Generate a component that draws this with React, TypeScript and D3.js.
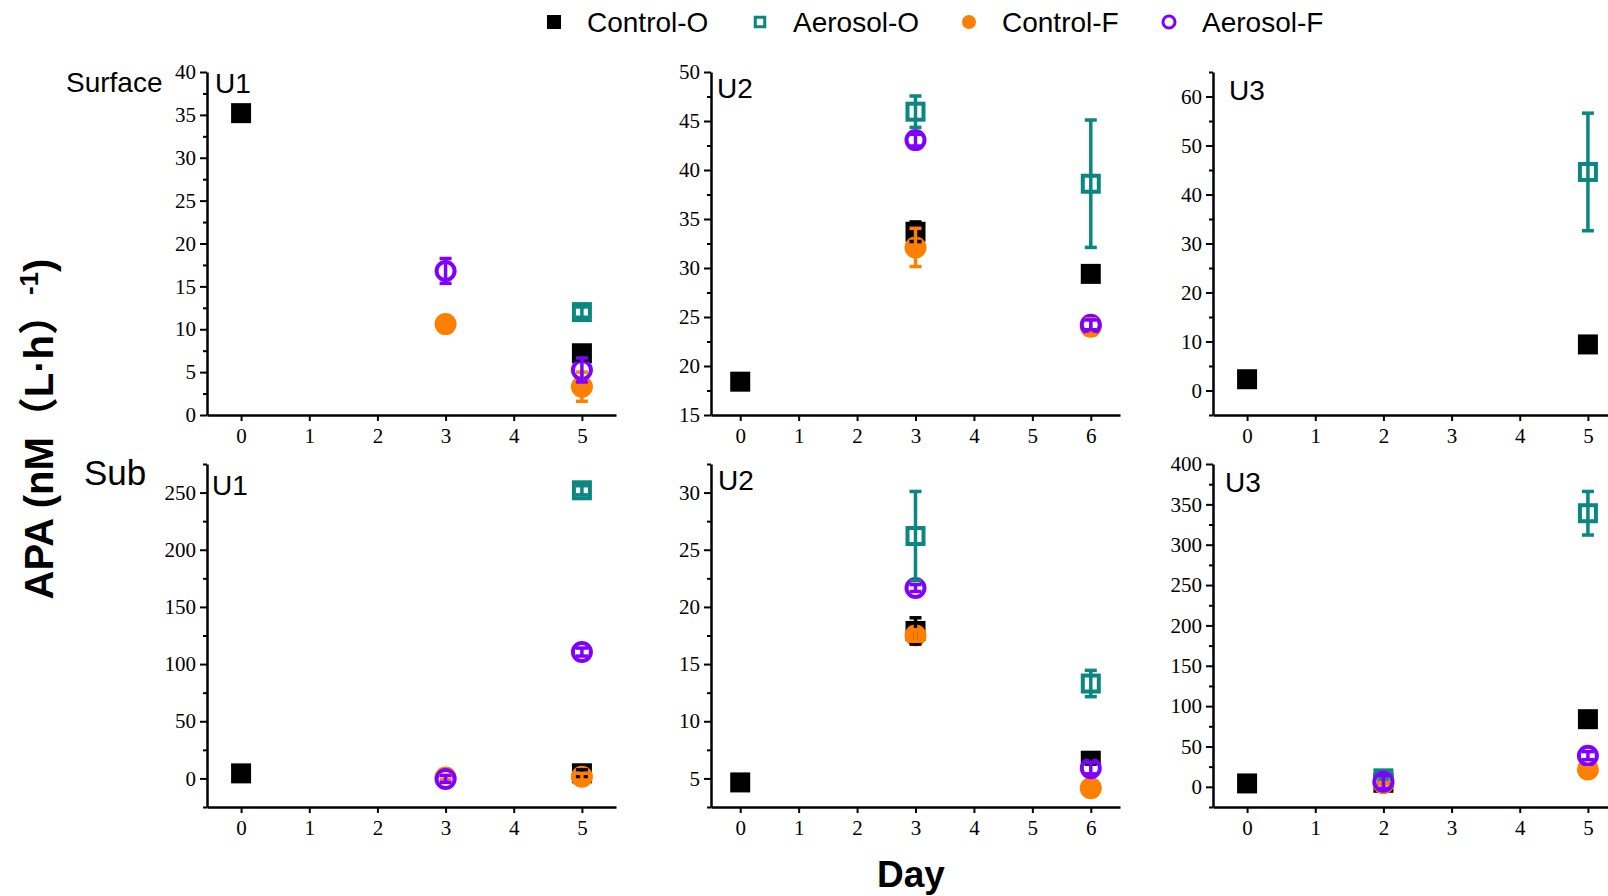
import React, { useEffect, useRef } from 'react';
import * as d3 from 'd3';

// series names + colours (legend order = draw order)
const seriesNames = ['Control-O', 'Aerosol-O', 'Control-F', 'Aerosol-F'];
const seriesColors = ['#000000', '#0b8680', '#ff8000', '#8000ff'];

// [day, mean, error]  -- Surface
const surfU1_ctrlO = [[0, 35.2, 0.3], [5, 7.2, 0.8]];
const surfU1_aeroO = [[5, 12.0, 0.6]];
const surfU1_ctrlF = [[3, 10.6, 0.4], [5, 3.3, 1.7]];
const surfU1_aeroF = [[3, 16.8, 1.45], [5, 5.25, 1.4]];

const surfU2_ctrlO = [[0, 18.4, 0.2], [3, 33.7, 1.0], [6, 29.4, 0.3]];
const surfU2_aeroO = [[3, 45.95, 1.6], [6, 38.6, 6.5]];
const surfU2_ctrlF = [[3, 32.1, 1.95], [6, 24.0, 0.8]];
const surfU2_aeroF = [[3, 43.05, 0.6], [6, 24.2, 0.5]];

const surfU3_ctrlO = [[0, 2.3, 0.3], [5, 9.4, 0.4]];
const surfU3_aeroO = [[5, 44.6, 12]];
const surfU3_ctrlF = [];
const surfU3_aeroF = [];

// Sub
const subU1_ctrlO = [[0, 4.4, 1], [5, 4.5, 3]];
const subU1_aeroO = [[5, 252, 4]];
const subU1_ctrlF = [[3, 0.8, 2], [5, 1.4, 3]];
const subU1_aeroF = [[3, -0.5, 3], [5, 110.5, 3.5]];

const subU2_ctrlO = [[0, 4.65, 0.1], [3, 17.9, 1.15], [6, 6.55, 0.3]];
const subU2_aeroO = [[3, 26.2, 3.9], [6, 13.3, 1.15]];
const subU2_ctrlF = [[3, 17.5, 0.5], [6, 4.15, 0.2]];
const subU2_aeroF = [[3, 21.65, 0.3], [6, 5.9, 0.5]];

const subU3_ctrlO = [[0, 4.2, 0.5], [2, 5, 1], [5, 83.8, 2]];
const subU3_aeroO = [[2, 10.5, 2], [5, 339, 27]];
const subU3_ctrlF = [[2, 4.5, 1], [5, 21.6, 2]];
const subU3_aeroF = [[2, 6.2, 8], [5, 38.6, 5]];

const panels = [
  { row: 0, col: 0, label: 'U1', lx: 8, ly: 21, xMax: 5, yDomain: [0, 40], yStep: 5,
    data: [surfU1_ctrlO, surfU1_aeroO, surfU1_ctrlF, surfU1_aeroF] },
  { row: 0, col: 1, label: 'U2', lx: 6, ly: 26, xMax: 6, yDomain: [15, 50], yStep: 5,
    data: [surfU2_ctrlO, surfU2_aeroO, surfU2_ctrlF, surfU2_aeroF] },
  { row: 0, col: 2, label: 'U3', lx: 16, ly: 28, xMax: 5, yDomain: [-5, 65], yStep: 10,
    data: [surfU3_ctrlO, surfU3_aeroO, surfU3_ctrlF, surfU3_aeroF] },
  { row: 1, col: 0, label: 'U1', lx: 5, ly: 31, xMax: 5, yDomain: [-25, 275], yStep: 50,
    data: [subU1_ctrlO, subU1_aeroO, subU1_ctrlF, subU1_aeroF] },
  { row: 1, col: 1, label: 'U2', lx: 7, ly: 26, xMax: 6, yDomain: [2.5, 32.5], yStep: 5,
    data: [subU2_ctrlO, subU2_aeroO, subU2_ctrlF, subU2_aeroF] },
  { row: 1, col: 2, label: 'U3', lx: 12, ly: 28, xMax: 5, yDomain: [-25, 400], yStep: 50,
    data: [subU3_ctrlO, subU3_aeroO, subU3_ctrlF, subU3_aeroF] },
];

const W = 1608, H = 896;
const colLeft = [207, 711, 1213];
const rowTop = [72, 464];
const plotW = 409, plotH = 343;
const serif = '"Liberation Serif", "Times New Roman", serif';
const sans = '"Liberation Sans", Arial, "Noto Sans CJK SC", sans-serif';
const fmt = d3.format('d');

function drawMarker(g, i, cx, cy, big) {
  let c = seriesColors[i];
  if (i === 0) {
    let s = big ? 20 : 14;
    g.append('rect').attr('x', cx - s / 2).attr('y', cy - s / 2).attr('width', s).attr('height', s).attr('fill', c);
  } else if (i === 1) {
    let s = big ? 16 : 9.5, sw = big ? 4 : 3;
    g.append('rect').attr('x', cx - s / 2).attr('y', cy - s / 2).attr('width', s).attr('height', s)
      .attr('fill', '#fff').attr('stroke', c).attr('stroke-width', sw);
  } else if (i === 2) {
    g.append('circle').attr('cx', cx).attr('cy', cy).attr('r', big ? 11 : 7).attr('fill', c);
  } else {
    g.append('circle').attr('cx', cx).attr('cy', cy).attr('r', big ? 9 : 6)
      .attr('fill', '#fff').attr('stroke', c).attr('stroke-width', big ? 4 : 3);
  }
}

function drawPanel(svg, p) {
  let left = colLeft[p.col], top = rowTop[p.row];
  let x = d3.scaleLinear().domain([-0.5, p.xMax + 0.5]).range([0, plotW]);
  let y = d3.scaleLinear().domain(p.yDomain).range([plotH, 0]);
  let g = svg.append('g').attr('transform', `translate(${left},${top})`);

  let first = Math.ceil(p.yDomain[0] / p.yStep) * p.yStep;
  let majors = d3.range(first, p.yDomain[1] + 1e-9, p.yStep);
  let minors = d3.range(Math.ceil(p.yDomain[0] / (p.yStep / 2)) * p.yStep / 2, p.yDomain[1] + 1e-9, p.yStep / 2)
    .filter(v => Math.abs(v / p.yStep - Math.round(v / p.yStep)) > 1e-6);

  let yMinor = g.append('g').call(d3.axisLeft(y).tickValues(minors).tickSize(4).tickFormat(() => ''));
  yMinor.select('.domain').remove();
  yMinor.selectAll('line').attr('stroke-width', 2);

  let yAx = g.append('g')
    .call(d3.axisLeft(y).tickValues(majors).tickFormat(fmt).tickSize(7).tickPadding(4).tickSizeOuter(0));
  yAx.select('.domain').attr('stroke-width', 2.5);
  yAx.selectAll('line').attr('stroke-width', 2);
  yAx.selectAll('text').attr('font-family', serif).attr('font-size', 21).attr('fill', '#000');

  let xAx = g.append('g').attr('transform', `translate(0,${plotH})`)
    .call(d3.axisBottom(x).tickValues(d3.range(0, p.xMax + 1)).tickFormat(fmt)
      .tickSize(6).tickPadding(7).tickSizeOuter(0));
  xAx.select('.domain').attr('stroke-width', 2.5);
  xAx.selectAll('line').attr('stroke-width', 2);
  xAx.selectAll('text').attr('font-family', serif).attr('font-size', 21).attr('fill', '#000');

  g.append('text').attr('x', p.lx).attr('y', p.ly).attr('font-family', sans).attr('font-size', 28).text(p.label);

  // markers first, then all error bars on top
  p.data.forEach((pts, i) => {
    pts.forEach(d => drawMarker(g, i, x(d[0]), y(d[1]), true));
  });
  p.data.forEach((pts, i) => {
    let c = seriesColors[i];
    pts.forEach(d => {
      let cx = x(d[0]), y1 = y(d[1] + d[2]), y0 = y(d[1] - d[2]);
      let eb = g.append('g').attr('stroke', c).attr('stroke-width', 3.5);
      eb.append('line').attr('x1', cx).attr('x2', cx).attr('y1', y1).attr('y2', y0);
      eb.append('line').attr('x1', cx - 6).attr('x2', cx + 6).attr('y1', y1).attr('y2', y1);
      eb.append('line').attr('x1', cx - 6).attr('x2', cx + 6).attr('y1', y0).attr('y2', y0);
    });
  });
}

export default function App() {
  const ref = useRef(null);

  useEffect(() => {
    let svg = d3.select(ref.current);
    svg.selectAll('*').remove();

    panels.forEach(p => drawPanel(svg, p));

    // legend
    let legX = [554, 760, 969, 1169];
    seriesNames.forEach((name, i) => {
      drawMarker(svg, i, legX[i], 22, false);
      svg.append('text').attr('x', legX[i] + 33).attr('y', 32).attr('font-family', sans)
        .attr('font-size', 28).text(name);
    });

    svg.append('text').attr('x', 66).attr('y', 92).attr('font-family', sans).attr('font-size', 28).text('Surface');
    svg.append('text').attr('x', 84).attr('y', 485).attr('font-family', sans).attr('font-size', 35).text('Sub');

    svg.append('text').attr('x', 911).attr('y', 887).attr('text-anchor', 'middle').attr('font-family', sans)
      .attr('font-weight', 'bold').attr('font-size', 37).text('Day');

    let yt = svg.append('text').attr('transform', 'translate(53,429) rotate(-90)').attr('text-anchor', 'middle')
      .attr('font-family', sans).attr('font-weight', 'bold').attr('font-size', 40);
    yt.append('tspan').text('APA (nM（L·h）');
    yt.append('tspan').attr('dy', -15).attr('font-size', 26).text('-1');
    yt.append('tspan').attr('dy', 15).text(')');
  }, []);

  return (
    <svg ref={ref} width={W} height={H} style={{ position: 'absolute', left: 0, top: 0, background: '#fff' }} />
  );
}
